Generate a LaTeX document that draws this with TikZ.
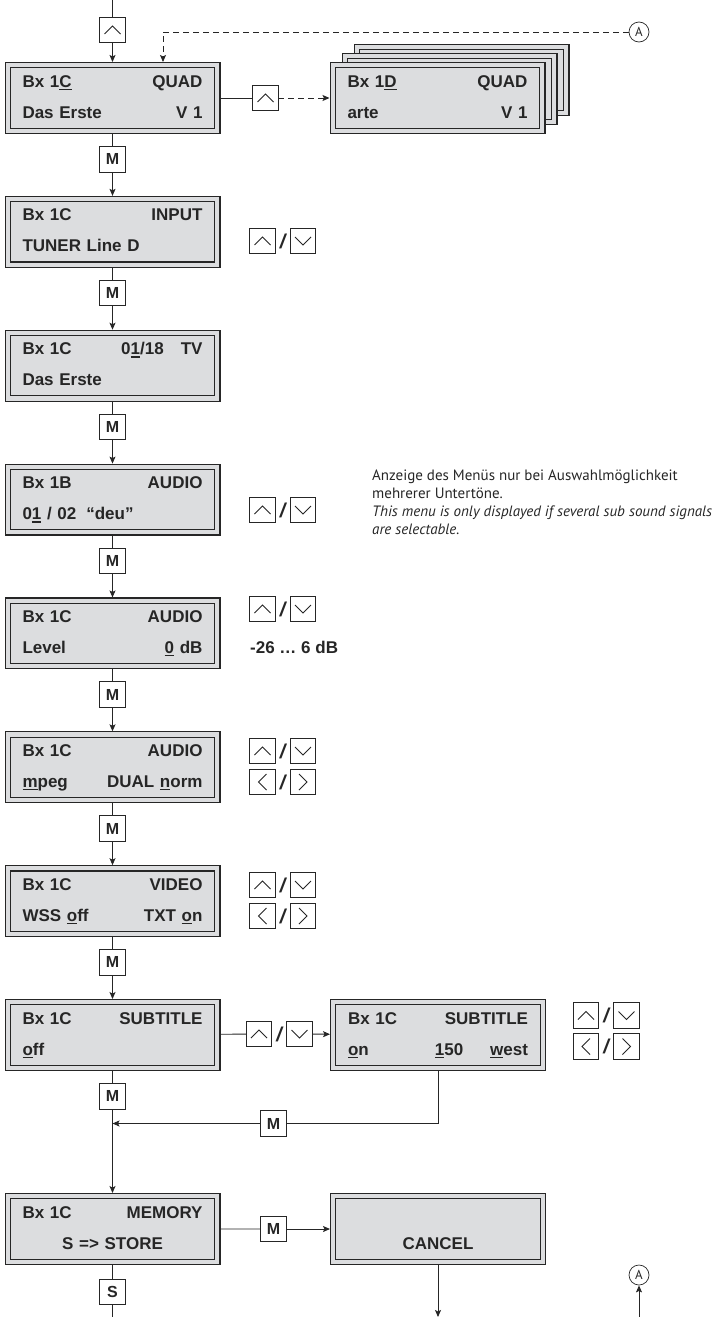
\documentclass[tikz,border=0pt]{standalone}
\usepackage{fontspec}
\setmainfont{Liberation Sans}
\newfontfamily\notefont{PT Sans}
\usepackage{tikz}
\usetikzlibrary{arrows.meta, positioning}

\definecolor{lcdgray}{RGB}{220,221,223}
\definecolor{inkgray}{RGB}{38,38,38}
\newcommand{\uln}[1]{\leavevmode\setbox0\hbox{#1}\rlap{\rule[-3pt]{\wd0}{1.4pt}}\box0\relax}

\begin{document}
\begin{tikzpicture}[
  x=1pt, y=-1pt,
  node distance=61.86pt,
  lcd/.style={rectangle, draw=inkgray, line width=1.1pt, double=lcdgray, double distance=4.2pt, fill=lcdgray,
    minimum width=209.6pt, minimum height=65.6pt, inner sep=0pt, outer sep=3.2pt, text width=180pt, align=left,
    font=\bfseries\fontsize{17}{31}\selectfont, text=inkgray,
    execute at begin node=\rule{0pt}{13pt}, execute at end node=\rule[-4pt]{0pt}{4pt}},
  btn/.style={rectangle, draw=inkgray, line width=0.9pt, fill=white, minimum size=25.5pt, inner sep=0pt, outer sep=0pt,
    font=\bfseries\fontsize{16}{16}\selectfont, text=inkgray},
  btnup/.style={btn, path picture={\draw[inkgray, line width=0.8pt] ([shift={(-8,4)}]path picture bounding box.center) -- ++(8,-8) -- ++(8,8);}},
  btndn/.style={btn, path picture={\draw[inkgray, line width=0.8pt] ([shift={(-8,-4)}]path picture bounding box.center) -- ++(8,8) -- ++(8,-8);}},
  btnlt/.style={btn, path picture={\draw[inkgray, line width=0.8pt] ([shift={(4,-8)}]path picture bounding box.center) -- ++(-8,8) -- ++(8,8);}},
  btnrt/.style={btn, path picture={\draw[inkgray, line width=0.8pt] ([shift={(-4,-8)}]path picture bounding box.center) -- ++(8,8) -- ++(-8,8);}},
  slashmark/.style={inner sep=0pt, outer sep=0pt, minimum width=15pt, font=\bfseries\itshape\fontsize{20}{20}\selectfont, text=inkgray},
  refcircle/.style={circle, draw=inkgray, line width=0.7pt, minimum size=20pt, inner sep=0pt, font=\notefont\fontsize{13}{13}\selectfont, text=inkgray},
  note/.style={align=left, inner sep=0pt, font=\notefont\fontsize{15}{18}\selectfont, text=inkgray},
  rangetext/.style={inner sep=0pt, font=\bfseries\fontsize{17}{17}\selectfont, text=inkgray},
  link/.style={draw=inkgray, line width=0.9pt},
  arrow/.style={link, -{Stealth[length=7pt,width=6pt,inset=1.5pt]}},
  dasharrow/.style={arrow, line width=0.8pt, dash pattern=on 6pt off 4pt}
]
\useasboundingbox (0,0) rectangle (719,1317);

\node[lcd] (b1) at (112.5,98) {Bx 1\uln{C}\hfill QUAD\\Das Erste\hfill V 1};
\node[lcd, below=of b1] (b2) {Bx 1C\hfill INPUT\\TUNER Line D};
\node[lcd, below=of b2] (b3) {Bx 1C\hfill 0\uln{1}/18\hspace{17pt}TV\\Das Erste};
\node[lcd, below=of b3] (b4) {Bx 1B\hfill AUDIO\\0\uln{1} / 02\hspace{10pt}“deu”};
\node[lcd, below=of b4] (b5) {Bx 1C\hfill AUDIO\\Level\hfill\uln{0} dB};
\node[lcd, below=of b5] (b6) {Bx 1C\hfill AUDIO\\\uln{m}peg\hfill DUAL \uln{n}orm};
\node[lcd, below=of b6] (b7) {Bx 1C\hfill VIDEO\\WSS \uln{o}ff\hfill TXT \uln{o}n};
\node[lcd, below=of b7] (b8) {Bx 1C\hfill SUBTITLE\\\uln{o}ff};
\node[lcd, below=122pt of b8] (b9) {Bx 1C\hfill MEMORY\\\hspace*{\fill}S => STORE\hspace*{\fill}};

\node[lcd] (b1f) at (461.5,80) {};
\node[lcd] (b1e) at (449.5,89) {};
\node[lcd] (b1d) at (437.5,98) {Bx 1\uln{D}\hfill QUAD\\arte\hfill V 1};
\node[lcd] (b8b) at (438,1035) {Bx 1C\hfill SUBTITLE\\\uln{o}n\hfill\uln{1}50\hspace{27pt}\uln{w}est};
\node[lcd] (cx) at (438,1229) {\\\hspace*{\fill}CANCEL\hspace*{\fill}};

\node[btnup] (k0) at (112.5,30) {};
\node[btn, below=12.5pt of b1] (m1) {M};
\node[btn, below=12.5pt of b2] (m2) {M};
\node[btn, below=12.5pt of b3] (m3) {M};
\node[btn, below=12.5pt of b4] (m4) {M};
\node[btn, below=12.5pt of b5] (m5) {M};
\node[btn, below=12.5pt of b6] (m6) {M};
\node[btn, below=12.5pt of b7] (m7) {M};
\node[btn, below=12.5pt of b8] (m8) {M};
\node[btn] (m8c) at (273.5,1123.5) {M};
\node[btn] (m9) at (273.5,1229) {M};
\node[btn, below=14pt of b9] (s9) {S};
\node[btnup] (k1) at (265.5,98) {};

\node[btnup] (u2) at (262.5,241) {};
\node[slashmark, right=0pt of u2] (s2) {/};
\node[btndn, right=0pt of s2] (d2) {};
\node[btnup] (u4) at (262.5,510) {};
\node[slashmark, right=0pt of u4] (s4) {/};
\node[btndn, right=0pt of s4] (d4) {};
\node[btnup] (u5) at (262.5,609) {};
\node[slashmark, right=0pt of u5] (s5) {/};
\node[btndn, right=0pt of s5] (d5) {};
\node[btnup] (u6) at (262.5,751) {};
\node[slashmark, right=0pt of u6] (s6) {/};
\node[btndn, right=0pt of s6] (d6) {};
\node[btnlt] (l6) at (262.5,782) {};
\node[slashmark, right=0pt of l6] (t6) {/};
\node[btnrt, right=0pt of t6] (r6) {};
\node[btnup] (u7) at (262.5,885) {};
\node[slashmark, right=0pt of u7] (s7) {/};
\node[btndn, right=0pt of s7] (d7) {};
\node[btnlt] (l7) at (262.5,916) {};
\node[slashmark, right=0pt of l7] (t7) {/};
\node[btnrt, right=0pt of t7] (r7) {};
\node[btnup] (u8) at (259,1034) {};
\node[slashmark, right=0pt of u8] (s8) {/};
\node[btndn, right=0pt of s8] (d8) {};
\node[btnup] (u8b) at (586,1015.5) {};
\node[slashmark, right=0pt of u8b] (s8b) {/};
\node[btndn, right=0pt of s8b] (d8b) {};
\node[btnlt] (l8b) at (586,1046.5) {};
\node[slashmark, right=0pt of l8b] (t8b) {/};
\node[btnrt, right=0pt of t8b] (r8b) {};

\node[note, anchor=north west] (n4) at (372,470) {Anzeige des Menüs nur bei Auswahlmöglichkeit\\mehrerer Untertöne.\\\textit{This menu is only displayed if several sub sound signals}\\\textit{are selectable.}};
\node[rangetext, anchor=base west] (r5) at (250,653) {-26 … 6 dB};
\node[refcircle] (A1) at (639,32) {A};
\node[refcircle] (A2) at (639,1275) {A};

\coordinate (in1) at (112.5,0);
\coordinate (b1top) at ([xshift=50.5pt]b1.north);
\coordinate (join) at (b8.south |- m8c);
\coordinate (out1) at (112.5,1317);
\coordinate (out2) at (438,1317);
\coordinate (in2) at (639,1317);

\draw[link] (in1) -- (k0);
\draw[arrow] (k0) -- (b1);
\draw[dasharrow] (A1) -| (b1top);
\draw[link] (b1) -- (k1);
\draw[dasharrow] (k1) -- (b1d);
\draw[link] (b1) -- (m1);
\draw[arrow] (m1) -- (b2);
\draw[link] (b2) -- (m2);
\draw[arrow] (m2) -- (b3);
\draw[link] (b3) -- (m3);
\draw[arrow] (m3) -- (b4);
\draw[link] (b4) -- (m4);
\draw[arrow] (m4) -- (b5);
\draw[link] (b5) -- (m5);
\draw[arrow] (m5) -- (b6);
\draw[link] (b6) -- (m6);
\draw[arrow] (m6) -- (b7);
\draw[link] (b7) -- (m7);
\draw[arrow] (m7) -- (b8);
\draw[link] (b8) -- (u8);
\draw[arrow] (d8) -- (b8b);
\draw[link] (b8) -- (m8);
\draw[arrow] (m8) -- (b9);
\draw[link] (b8b) |- (m8c);
\draw[arrow] (m8c) -- (join);
\draw[link] (b9) -- (m9);
\draw[arrow] (m9) -- (cx);
\draw[link] (b9) -- (s9);
\draw[link] (s9) -- (out1);
\draw[arrow] (cx) -- (out2);
\draw[arrow] (in2) -- (A2);

\end{tikzpicture}
\end{document}
